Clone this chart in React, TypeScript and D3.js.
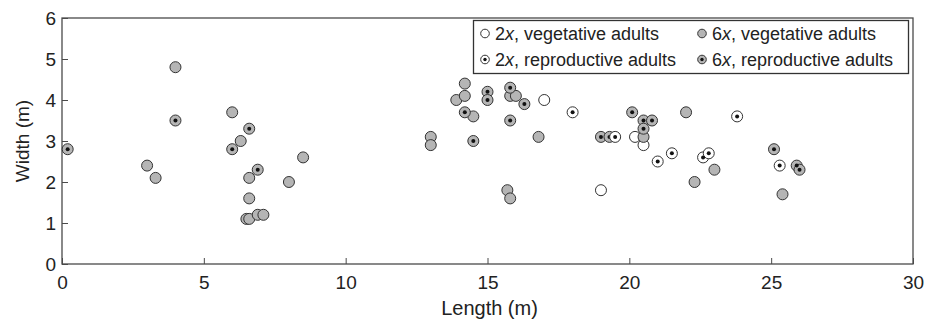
// App.tsx
import React, { useEffect, useRef } from "react";
import * as d3 from "d3";

// 2x, vegetative adults
const veg2xLength = [17.0, 19.0, 20.2, 20.5];
const veg2xWidth = [4.0, 1.8, 3.1, 2.9];

// 6x, vegetative adults
const veg6xLength = [
  4.0, 3.0, 3.3, 6.0, 6.3, 6.6, 6.6, 6.5, 6.6, 6.9, 7.1, 8.0, 8.5, 13.0, 13.0, 14.2, 13.9, 14.2,
  14.5, 15.8, 16.0, 16.8, 15.7, 15.8, 20.5, 22.0, 22.3, 23.0, 25.4,
];
const veg6xWidth = [
  4.8, 2.4, 2.1, 3.7, 3.0, 2.1, 1.6, 1.1, 1.1, 1.2, 1.2, 2.0, 2.6, 3.1, 2.9, 4.4, 4.0, 4.1, 3.6,
  4.1, 4.1, 3.1, 1.8, 1.6, 3.1, 3.7, 2.0, 2.3, 1.7,
];

// 6x, reproductive adults
const rep6xLength = [
  0.2, 4.0, 6.0, 6.6, 6.9, 14.2, 14.5, 15.0, 15.0, 15.8, 16.3, 15.8, 19.0, 19.3, 20.1, 20.5, 20.8,
  20.5, 25.1, 25.9, 26.0,
];
const rep6xWidth = [
  2.8, 3.5, 2.8, 3.3, 2.3, 3.7, 3.0, 4.2, 4.0, 4.3, 3.9, 3.5, 3.1, 3.1, 3.7, 3.5, 3.5, 3.3, 2.8,
  2.4, 2.3,
];

// 2x, reproductive adults
const rep2xLength = [18.0, 19.5, 21.0, 21.5, 22.6, 22.8, 23.8, 25.3];
const rep2xWidth = [3.7, 3.1, 2.5, 2.7, 2.6, 2.7, 3.6, 2.4];

const xTicks = [0, 5, 10, 15, 20, 25, 30];
const yTicks = [0, 1, 2, 3, 4, 5, 6];

const seriesNames = [
  "2x, vegetative adults",
  "6x, vegetative adults",
  "2x, reproductive adults",
  "6x, reproductive adults",
];

const FONT = "'Liberation Sans', Arial, Helvetica, sans-serif";

const App = () => {
  const ref = useRef<SVGSVGElement | null>(null);

  useEffect(() => {
    const svg = d3.select(ref.current);
    svg.selectAll("*").remove();

    const margin = { top: 18, right: 12, bottom: 57, left: 62 };
    const width = 925 - margin.left - margin.right;
    const height = 321 - margin.top - margin.bottom;

    const g = svg.append("g").attr("transform", `translate(${margin.left},${margin.top})`);

    const x = d3.scaleLinear().domain([0, 30]).range([0, width]);
    const y = d3.scaleLinear().domain([0, 6]).range([height, 0]);

    const axisColor = "#4a4a4a";
    const textColor = "#222";

    // frame
    g.append("rect")
      .attr("width", width)
      .attr("height", height)
      .attr("fill", "none")
      .attr("stroke", axisColor)
      .attr("stroke-width", 1.3);

    // inward ticks
    const xAxis = g
      .append("g")
      .attr("transform", `translate(0,${height})`)
      .call(d3.axisBottom(x).tickValues(xTicks).tickFormat(d3.format("d")).tickSize(-6).tickPadding(9));
    xAxis.select(".domain").remove();
    xAxis.selectAll("line").attr("stroke", axisColor);
    xAxis
      .selectAll("text")
      .attr("font-family", FONT)
      .attr("font-size", 19)
      .attr("fill", textColor)
      .attr("dy", "0.85em");

    const yAxis = g
      .append("g")
      .call(d3.axisLeft(y).tickValues(yTicks).tickFormat(d3.format("d")).tickSize(-6).tickPadding(6));
    yAxis.select(".domain").remove();
    yAxis.selectAll("line").attr("stroke", axisColor);
    yAxis
      .selectAll("text")
      .attr("font-family", FONT)
      .attr("font-size", 19)
      .attr("fill", textColor);

    // axis titles
    g.append("text")
      .attr("x", width / 2 + 2)
      .attr("y", height + 51)
      .attr("text-anchor", "middle")
      .attr("font-family", FONT)
      .attr("font-size", 20)
      .attr("fill", textColor)
      .text("Length (m)");

    g.append("text")
      .attr("transform", "rotate(-90)")
      .attr("x", -height / 2)
      .attr("y", -33)
      .attr("text-anchor", "middle")
      .attr("font-family", FONT)
      .attr("font-size", 19)
      .attr("fill", textColor)
      .text("Width (m)");

    const gray = "#b5b5b5";
    const stroke = "#333";
    const r = 5.5;

    const drawSeries = (xs: number[], ys: number[], fill: string, dot: boolean) => {
      const pts = xs.map((v, i) => [v, ys[i]]);
      const grp = g.append("g");
      grp
        .selectAll("circle.outer")
        .data(pts)
        .enter()
        .append("circle")
        .attr("class", "outer")
        .attr("cx", (d) => x(d[0]))
        .attr("cy", (d) => y(d[1]))
        .attr("r", r)
        .attr("fill", fill)
        .attr("stroke", stroke)
        .attr("stroke-width", 1);
      if (dot) {
        grp
          .selectAll("circle.inner")
          .data(pts)
          .enter()
          .append("circle")
          .attr("class", "inner")
          .attr("cx", (d) => x(d[0]))
          .attr("cy", (d) => y(d[1]))
          .attr("r", 2)
          .attr("fill", "#111");
      }
    };

    drawSeries(veg2xLength, veg2xWidth, "#fff", false);
    drawSeries(veg6xLength, veg6xWidth, gray, false);
    drawSeries(rep6xLength, rep6xWidth, gray, true);
    drawSeries(rep2xLength, rep2xWidth, "#fff", true);

    // legend
    const legend = svg.append("g");
    legend
      .append("rect")
      .attr("x", 473.5)
      .attr("y", 20.5)
      .attr("width", 435)
      .attr("height", 53)
      .attr("fill", "#fff")
      .attr("stroke", "#333")
      .attr("stroke-width", 1.3);

    const legendItems = [
      { name: seriesNames[0], fill: "#fff", dot: false, col: 0, row: 0 },
      { name: seriesNames[1], fill: gray, dot: false, col: 1, row: 0 },
      { name: seriesNames[2], fill: "#fff", dot: true, col: 0, row: 1 },
      { name: seriesNames[3], fill: gray, dot: true, col: 1, row: 1 },
    ];
    const colX = [485, 702];
    const rowY = [33.5, 59.5];

    legendItems.forEach((it) => {
      const cx = colX[it.col];
      const cy = rowY[it.row];
      legend
        .append("circle")
        .attr("cx", cx)
        .attr("cy", cy)
        .attr("r", 4.3)
        .attr("fill", it.fill)
        .attr("stroke", stroke)
        .attr("stroke-width", 1);
      if (it.dot) {
        legend.append("circle").attr("cx", cx).attr("cy", cy).attr("r", 1.7).attr("fill", "#111");
      }
      const [pre, post] = it.name.split("x");
      const t = legend
        .append("text")
        .attr("x", cx + 10)
        .attr("y", cy)
        .attr("dy", "0.35em")
        .attr("font-family", FONT)
        .attr("font-size", 18)
        .attr("fill", textColor);
      t.append("tspan").text(pre);
      t.append("tspan").attr("font-style", "italic").text("x");
      t.append("tspan").text(post);
    });
  }, []);

  return (
    <svg
      ref={ref}
      width={925}
      height={321}
      style={{ position: "absolute", left: 0, top: 0, background: "#fff" }}
    />
  );
};

export default App;
